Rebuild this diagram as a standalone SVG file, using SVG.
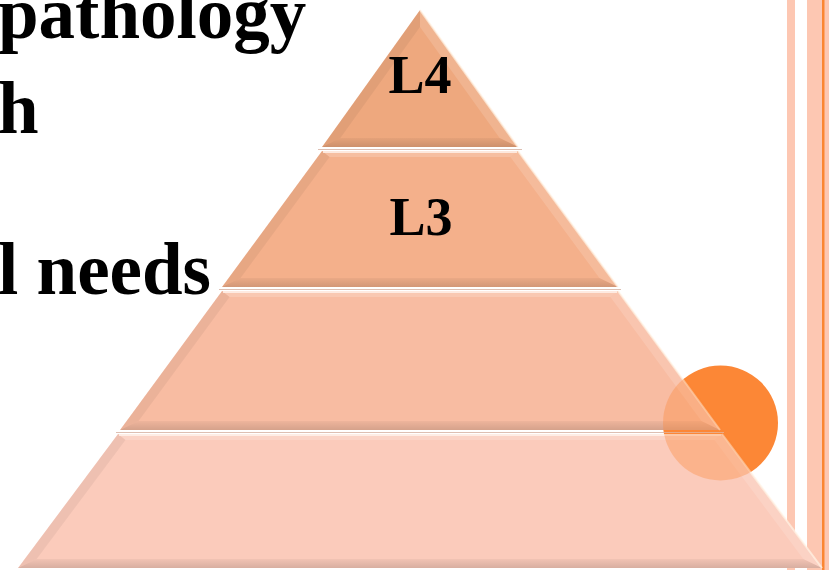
<svg xmlns="http://www.w3.org/2000/svg" width="829" height="570" viewBox="0 0 829 570">
<style>
.txt{font-family:"Liberation Serif","Times New Roman",serif;font-weight:bold;fill:#000}
.body{font-size:73px}
.lbl{font-size:54px;text-anchor:middle}
.bar{fill:#FDC7B2}
.top{fill:#FFFFFF;fill-opacity:0.18}
.bot{fill:url(#botg)}
.lft{fill:#000;fill-opacity:0.05}
.rgt{fill:#FFFFFF;fill-opacity:0.14}
.hi{stroke:#FFF3EC;stroke-width:2;stroke-opacity:0.8;fill:none}
.edge{stroke:#FFF4E6;stroke-width:2;stroke-opacity:0.7;fill:none}
.gap{stroke:#DDBFB2;stroke-width:1;fill:none}
</style>
<defs>
<linearGradient id="botg" x1="0" y1="0" x2="0" y2="1">
<stop offset="0" stop-color="#000" stop-opacity="0.04"/>
<stop offset="1" stop-color="#000" stop-opacity="0.14"/>
</linearGradient>
<clipPath id="pyr">
<polygon points="420,10 822,568 18,568"/>
</clipPath>
</defs>
<rect width="829" height="570" fill="#FFFFFF"/>
<g id="bars">
<rect class="bar" x="787" y="0" width="8" height="570"/>
<rect class="bar" x="807" y="0" width="22" height="570"/>
<rect x="822" y="0" width="2.5" height="570" fill="#FB8632"/>
</g>
<circle id="circle-back" cx="720.5" cy="423" r="57.5" fill="#FC8736"/>
<g id="text">
<text class="txt body" x="-2" y="38">pathology</text>
<text class="txt body" x="-2" y="133">h</text>
<text class="txt body" x="-2" y="294">l needs</text>
</g>
<g id="L1">
<polygon points="118,434 722,434 822,568 18,568" fill="#FBCBBB"/>
<polygon class="top" points="118,434 722,434 714.5,440 125.5,440"/>
<polygon class="rgt" points="722,434 822,568 803.3,559 714.5,440"/>
<polygon class="lft" points="118,434 125.5,440 36.7,559 18,568"/>
<polygon class="bot" points="36.7,559 803.3,559 822,568 18,568"/>
<line class="hi" x1="119" y1="435" x2="721" y2="435"/>
<line class="edge" x1="722" y1="434" x2="822" y2="568"/>
</g>
<g id="L2">
<polygon points="222,291 618,291 720,430 120,430" fill="#F8BCA2"/>
<polygon class="top" points="222,291 618,291 610.4,297 229.6,297"/>
<polygon class="rgt" points="618,291 720,430 701.4,421 610.4,297"/>
<polygon class="lft" points="222,291 229.6,297 138.6,421 120,430"/>
<polygon class="bot" points="138.6,421 701.4,421 720,430 120,430"/>
<line class="hi" x1="223" y1="292" x2="617" y2="292"/>
<line class="edge" x1="618" y1="291" x2="720" y2="430"/>
</g>
<g id="L3">
<polygon points="322,151 518,151 618,287 222,287" fill="#F4B08B"/>
<polygon class="top" points="322,151 518,151 510.4,157 329.6,157"/>
<polygon class="rgt" points="518,151 618,287 599.4,278 510.4,157"/>
<polygon class="lft" points="322,151 329.6,157 240.6,278 222,287"/>
<polygon class="bot" points="240.6,278 599.4,278 618,287 222,287"/>
<line class="hi" x1="323" y1="152" x2="517" y2="152"/>
<line class="edge" x1="518" y1="151" x2="618" y2="287"/>
<text class="txt lbl" x="421" y="235">L3</text>
</g>
<g id="L4">
<polygon points="420,10 518,147 322,147" fill="#EEA87E"/>
<polygon class="rgt" points="420,10 518,147 499.6,138 420,27"/>
<polygon class="lft" points="420,10 420,27 340.4,138 322,147"/>
<polygon class="bot" points="340.4,138 499.6,138 518,147 322,147"/>
<line class="edge" x1="420" y1="10" x2="518" y2="147"/>
<text class="txt lbl" x="420" y="93">L4</text>
</g>
<g id="gaps">
<line class="gap" x1="318" y1="149.5" x2="522" y2="149.5"/>
<line class="gap" x1="219" y1="289.5" x2="621" y2="289.5"/>
<line class="gap" x1="116" y1="432.5" x2="724" y2="432.5"/>
</g>
<circle id="circle-front" cx="720.5" cy="423" r="57.5" fill="#FC8736" fill-opacity="0.35" clip-path="url(#pyr)"/>
<g id="connectors"/>
</svg>
